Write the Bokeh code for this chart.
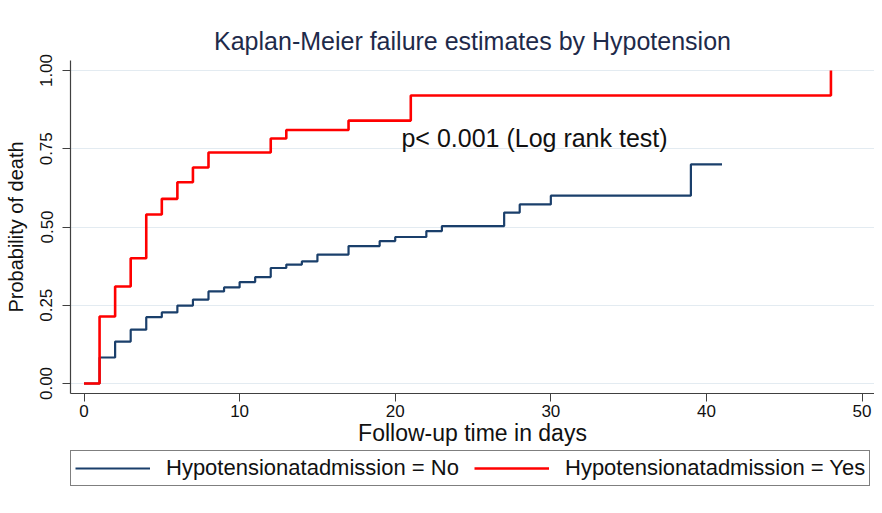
from bokeh.plotting import figure
from bokeh.layouts import column
from bokeh.models import Range1d, FixedTicker, Legend, LegendItem, Label, NumeralTickFormatter
from bokeh.embed import file_html
from bokeh.resources import INLINE

# ---- data ----
no_time = [0, 1, 2, 3, 4, 5, 6, 7, 8, 9, 10, 11, 12, 13, 14, 15, 17, 19, 20, 22, 23, 27, 28, 30, 39, 41]
no_prob = [0.0, 0.083, 0.134, 0.172, 0.212, 0.227, 0.249, 0.268, 0.294, 0.307, 0.324, 0.340, 0.369,
           0.380, 0.390, 0.412, 0.439, 0.455, 0.468, 0.487, 0.503, 0.546, 0.572, 0.600, 0.700, 0.700]
yes_time = [0, 1, 2, 3, 4, 5, 6, 7, 8, 12, 13, 17, 21, 48]
yes_prob = [0.0, 0.214, 0.310, 0.400, 0.540, 0.590, 0.643, 0.690, 0.738, 0.783, 0.810, 0.840, 0.920, 1.0]

x_ticks = [0, 10, 20, 30, 40, 50]
y_ticks = [0, 0.25, 0.5, 0.75, 1.0]

title_text = "Kaplan-Meier failure estimates by Hypotension"
x_label = "Follow-up time in days"
y_label = "Probability of death"
legend_no = "Hypotensionatadmission = No"
legend_yes = "Hypotensionatadmission = Yes"
note_text = "p< 0.001 (Log rank test)"
note_x, note_y = 20.4, 0.783

FONT = "Liberation Sans"
BLUE = "#1a3f6b"
RED = "#ff0000"
W = 874

p = figure(width=W, height=450, output_backend="svg", toolbar_location=None,
           x_range=Range1d(-0.868, 50.80), y_range=Range1d(-0.032, 1.032),
           min_border_left=70, min_border_right=0, min_border_top=60, min_border_bottom=57)

p.background_fill_color = "white"
p.border_fill_color = "white"
p.outline_line_color = None

# title
p.title.text = title_text
p.title.align = "center"
p.title.text_font = FONT
p.title.text_font_size = "25px"
p.title.text_font_style = "normal"
p.title.text_color = "#1e2a4a"
p.title.standoff = 11

# lines
r_no = p.step(no_time, no_prob, mode="after", line_color=BLUE, line_width=2.2)
r_yes = p.step(yes_time, yes_prob, mode="after", line_color=RED, line_width=2.6)

# axes
for ax in (p.xaxis, p.yaxis):
    ax.axis_line_color = "#404040"
    ax.axis_line_width = 1.2
    ax.major_tick_line_color = "#404040"
    ax.major_tick_out = 8
    ax.major_tick_in = 0
    ax.minor_tick_out = 0
    ax.minor_tick_in = 0
    ax.major_label_text_font = FONT
    ax.major_label_text_font_size = "17px"
    ax.major_label_text_color = "#111111"
    ax.axis_label_text_font = FONT
    ax.axis_label_text_font_style = "normal"
    ax.axis_label_text_color = "#111111"

p.xaxis.ticker = FixedTicker(ticks=x_ticks)
p.xaxis.axis_label = x_label
p.xaxis.axis_label_text_font_size = "23px"
p.xaxis.major_label_standoff = 3
p.xaxis.axis_label_standoff = 0

p.yaxis.ticker = FixedTicker(ticks=y_ticks)
p.yaxis.formatter = NumeralTickFormatter(format="0.00")
p.yaxis.major_label_orientation = "vertical"
p.yaxis.axis_label = y_label
p.yaxis.axis_label_text_font_size = "20px"
p.yaxis.major_label_standoff = 10
p.yaxis.axis_label_standoff = 11

p.xgrid.visible = False
p.ygrid.grid_line_color = "#e3ebf1"
p.ygrid.grid_line_width = 1

# annotation
p.add_layout(Label(x=note_x, y=note_y, text=note_text, text_font=FONT, text_font_size="25px",
                   text_baseline="middle", text_color="#111111"))

# legend strip: a second, axis-less figure; its (hidden) renderers only supply legend glyphs
lg = figure(width=W, height=36, output_backend="svg", toolbar_location=None,
            x_axis_type=None, y_axis_type=None, min_border=0,
            x_range=Range1d(0, 1), y_range=Range1d(0, 1))
lg.outline_line_color = None
lg.background_fill_color = "white"
lg.border_fill_color = "white"
lg.grid.visible = False
l_no = lg.line(no_time, no_prob, line_color=BLUE, line_width=2.2, visible=False)
l_yes = lg.line(yes_time, yes_prob, line_color=RED, line_width=2.6, visible=False)

legend = Legend(items=[LegendItem(label=legend_no, renderers=[l_no]),
                       LegendItem(label=legend_yes, renderers=[l_yes])],
                orientation="horizontal", location=(0, 0), margin=0, padding=4,
                spacing=10, glyph_width=75, glyph_height=20, label_standoff=16, label_width=298,
                border_line_color="black", border_line_width=1,
                label_text_font=FONT, label_text_font_size="22px", label_text_color="#111111",
                background_fill_color="white", inactive_fill_alpha=0.0)
lg.add_layout(legend)

layout = column(p, lg, spacing=0)
open("out.html", "w").write(file_html(layout, INLINE))
